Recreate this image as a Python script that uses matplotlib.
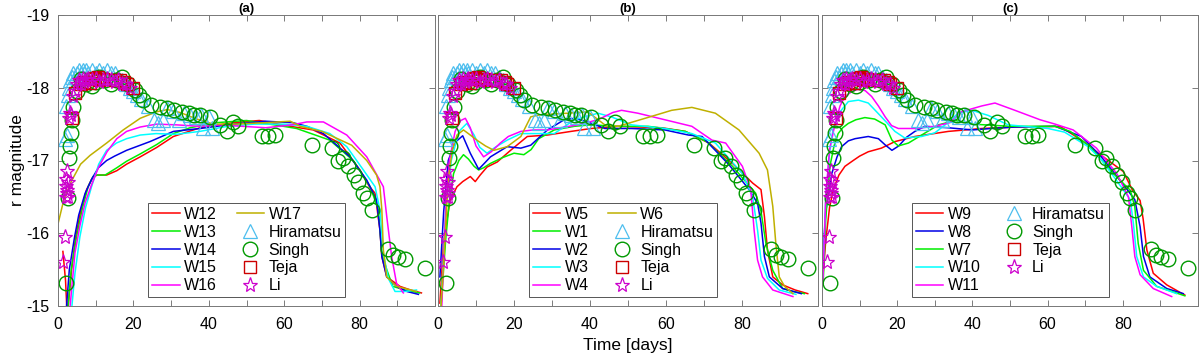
import matplotlib
matplotlib.use("Agg")
import matplotlib.pyplot as plt

plt.rcParams['font.family'] = ['Liberation Sans', 'DejaVu Sans']
plt.rcParams['axes.unicode_minus'] = False

# ── observations (same in every panel) ───────────────────
hira_t = [1.8, 2.0, 2.3, 2.6, 3.0, 3.3, 3.7, 4.0, 4.5, 5.0, 5.5, 6.0, 6.5, 7.0, 7.5, 8.0, 9.0,
          10.0, 11.0, 12.0, 13.0, 14.0, 15.0, 16.0, 17.0, 18.0, 19.0, 20.0, 21.0, 22.0, 24.0,
          25.5, 26.5, 27.8, 29.0, 30.5, 32.0, 33.5, 35.0, 36.5, 38.0, 38.5, 40.0, 40.8]
hira_m = [-17.3, -17.75, -17.35, -17.9, -18.0, -18.1, -18.15, -18.2, -18.15, -18.2, -18.25, -18.2,
          -18.25, -18.2, -18.25, -18.2, -18.25, -18.2, -18.25, -18.2, -18.25, -18.2, -18.2, -18.15,
          -18.1, -18.05, -18.0, -17.95, -17.9, -17.85, -17.75, -17.55, -17.52, -17.55, -17.72,
          -17.68, -17.55, -17.65, -17.62, -17.6, -17.62, -17.45, -17.6, -17.45]

singh_t = [2.0, 2.7, 3.0, 3.2, 3.5, 3.8, 4.1, 5.0, 6.0, 7.5, 9.0, 10.0, 11.0, 12.5, 14.0, 15.5,
           17.0, 18.5, 20.4, 21.5, 22.6, 24.8, 27.0, 29.0, 30.7, 33.0, 34.7, 36.0, 37.7, 40.3,
           43.0, 44.7, 46.5, 47.8, 54.0, 55.8, 57.5, 67.3, 72.6, 74.4, 75.6, 77.0, 78.4, 79.7,
           81.0, 81.9, 83.2, 87.6, 88.9, 90.2, 92.0, 97.3]
singh_m = [-15.32, -16.48, -17.03, -17.2, -17.38, -17.55, -17.74, -17.95, -18.12, -18.05, -18.02,
           -18.08, -18.15, -18.1, -18.05, -18.1, -18.15, -18.05, -17.97, -17.9, -17.83, -17.76,
           -17.74, -17.72, -17.7, -17.67, -17.65, -17.63, -17.62, -17.6, -17.49, -17.4, -17.53,
           -17.47, -17.34, -17.33, -17.35, -17.21, -17.17, -17.0, -17.04, -16.92, -16.8, -16.71,
           -16.55, -16.48, -16.32, -15.79, -15.7, -15.68, -15.64, -15.52]

teja_t = [3.6, 4.5, 6.0, 7.0, 8.4, 9.2, 9.8, 10.5, 11.0, 12.0, 15.0, 16.5, 17.5, 18.2, 20.0]
teja_m = [-17.58, -17.93, -18.05, -18.08, -18.07, -18.12, -18.13, -18.15, -18.11, -18.12, -18.1,
          -18.1, -18.08, -18.05, -18.0]

li_t = [1.4, 1.86, 2.0, 2.1, 2.2, 2.3, 2.4, 2.5, 2.6, 2.7, 3.0, 3.2, 3.5, 4.0, 4.5, 5.0, 5.5, 6.0,
        6.5, 7.0, 7.5, 8.0, 9.0, 10.0, 11.0, 12.0, 13.0, 14.0, 15.0, 16.0, 17.0, 18.0, 19.0]
li_m = [-15.61, -15.95, -16.5, -16.65, -16.75, -16.85, -16.6, -16.55, -16.7, -16.5, -17.58, -17.65,
        -17.62, -17.88, -17.95, -18.05, -18.1, -18.05, -18.12, -18.08, -18.1, -18.12, -18.1, -18.12,
        -18.08, -18.1, -18.12, -18.1, -18.08, -18.1, -18.05, -18.05, -18.0]

# ── panel (a) models ─────────────────────────────────────
w12_t = [1.3, 2.0, 2.4, 2.7, 3.6, 4.7, 6.0, 7.6, 9.0, 10.3, 12.9, 15.6, 18.2, 21.8, 26.2, 30.6,
         37.7, 46.5, 53.4, 61.6, 67.7, 74.8, 80.1, 82.5, 84.1, 85.4, 85.9, 87.2, 90.7, 93.5, 96.4]
w12_m = [-15.75, -15.35, -14.9, -15.0, -15.5, -15.95, -16.3, -16.6, -16.75, -16.8, -16.8, -16.86,
         -16.95, -17.05, -17.18, -17.33, -17.45, -17.52, -17.55, -17.47, -17.42, -17.24, -16.87,
         -16.65, -16.55, -16.04, -15.68, -15.4, -15.27, -15.22, -15.18]
w13_t = [2.6, 3.5, 4.9, 6.5, 8.0, 9.3, 10.3, 12.5, 15.6, 18.2, 21.8, 26.2, 30.6, 35.0, 42.0, 50.0,
         59.8, 63.3, 72.1, 78.3, 82.8, 85.0, 85.9, 87.2, 88.8, 92.0, 95.9]
w13_m = [-14.95, -15.5, -15.95, -16.35, -16.64, -16.78, -16.8, -16.8, -16.9, -16.99, -17.09, -17.22,
         -17.37, -17.45, -17.52, -17.55, -17.47, -17.44, -17.28, -17.0, -16.64, -16.32, -15.72,
         -15.5, -15.27, -15.22, -15.18]
w14_t = [2.2, 3.0, 4.4, 5.5, 7.2, 9.0, 10.7, 12.9, 15.0, 18.2, 24.4, 30.6, 37.7, 46.5, 55.0, 62.3,
         66.0, 70.4, 77.5, 81.9, 84.5, 85.4, 85.9, 87.2, 89.8, 92.5, 95.6]
w14_m = [-14.95, -15.5, -15.95, -16.25, -16.55, -16.75, -16.9, -17.0, -17.06, -17.14, -17.26, -17.4,
         -17.44, -17.5, -17.54, -17.52, -17.47, -17.37, -17.05, -16.73, -16.46, -16.04, -15.68,
         -15.4, -15.27, -15.2, -15.16]
w15_t = [3.6, 4.5, 5.8, 7.3, 8.9, 10.8, 12.9, 15.5, 18.2, 21.8, 26.0, 31.4, 37.6, 45.0, 52.0, 60.0,
         66.0, 72.1, 76.6, 81.0, 84.1, 85.4, 86.3, 87.6, 89.4, 92.0, 95.1]
w15_m = [-14.95, -15.45, -15.95, -16.35, -16.64, -16.95, -17.14, -17.24, -17.3, -17.35, -17.37,
         -17.36, -17.4, -17.47, -17.5, -17.5, -17.47, -17.37, -17.19, -16.87, -16.64, -16.32,
         -15.73, -15.38, -15.2, -15.2, -15.22]
w16_t = [3.2, 4.5, 5.8, 7.2, 9.0, 10.7, 13.0, 15.6, 18.2, 21.8, 26.2, 31.4, 37.6, 42.9, 48.9, 55.1,
         62.1, 66.0, 70.4, 76.6, 81.9, 86.3, 87.2, 88.5, 89.8, 91.6]
w16_m = [-14.99, -15.73, -16.1, -16.42, -16.68, -16.9, -17.12, -17.3, -17.4, -17.46, -17.5, -17.49,
         -17.47, -17.49, -17.47, -17.45, -17.49, -17.53, -17.53, -17.35, -17.05, -16.64, -16.23,
         -15.68, -15.31, -15.18]
w17_t = [0.1, 1.5, 3.6, 6.0, 8.5, 12.9, 17.3, 21.8, 26.2, 29.0, 32.4, 36.8, 41.2, 47.0, 55.0, 61.6,
         64.2, 70.0, 77.9, 81.9, 84.5, 85.4, 85.9, 86.3, 87.2, 89.8, 95.1]
w17_m = [-16.15, -16.45, -16.72, -16.95, -17.07, -17.24, -17.42, -17.58, -17.67, -17.7, -17.66,
         -17.57, -17.5, -17.5, -17.52, -17.54, -17.47, -17.4, -17.21, -17.0, -16.8, -16.64, -16.32,
         -15.77, -15.4, -15.27, -15.2]

# ── panel (b) models ─────────────────────────────────────
w5_t = [0.5, 1.5, 3.2, 5.0, 6.5, 8.5, 9.8, 11.1, 12.9, 15.6, 19.1, 23.5, 28.8, 35.0, 40.3, 47.4,
        58.9, 65.1, 71.3, 77.5, 82.8, 85.0, 85.9, 86.7, 88.1, 90.7, 94.0, 97.3]
w5_m = [-15.04, -15.9, -16.46, -16.64, -16.71, -16.78, -16.71, -16.8, -16.91, -16.98, -17.14,
        -17.33, -17.35, -17.4, -17.44, -17.47, -17.45, -17.4, -17.24, -16.96, -16.69, -16.6,
        -16.23, -15.77, -15.4, -15.29, -15.22, -15.17]
w1_t = [0.8, 2.0, 3.0, 4.1, 5.5, 6.7, 8.0, 9.5, 10.7, 12.0, 13.8, 17.0, 20.0, 22.6, 24.5, 26.5,
        30.6, 35.9, 40.3, 47.4, 55.3, 65.1, 71.0, 77.5, 83.6, 85.0, 86.3, 88.1, 90.7, 93.5, 96.4]
w1_m = [-15.0, -15.9, -16.45, -16.82, -17.0, -17.08, -17.02, -16.92, -16.87, -16.9, -16.96, -17.04,
        -17.1, -17.08, -17.15, -17.3, -17.42, -17.47, -17.49, -17.47, -17.47, -17.4, -17.25,
        -16.92, -16.55, -16.3, -15.86, -15.49, -15.24, -15.2, -15.17]
w2_t = [0.5, 1.5, 2.7, 4.5, 6.5, 8.5, 10.7, 12.0, 13.8, 18.2, 21.8, 24.4, 28.8, 33.2, 35.9, 39.4,
        43.9, 50.9, 59.7, 65.9, 69.5, 76.6, 81.9, 84.1, 85.0, 85.9, 87.2, 90.7, 95.6]
w2_m = [-15.4, -16.3, -17.0, -17.25, -17.34, -17.1, -16.88, -16.95, -17.05, -17.19, -17.17, -17.21,
        -17.42, -17.56, -17.58, -17.53, -17.44, -17.44, -17.42, -17.35, -17.33, -16.94, -16.6,
        -16.41, -16.14, -15.68, -15.4, -15.24, -15.17]
w3_t = [0.8, 2.0, 3.5, 5.5, 7.6, 9.5, 11.0, 12.9, 15.0, 18.2, 21.8, 24.4, 30.6, 35.9, 42.1, 45.6,
        50.9, 59.7, 66.8, 73.0, 80.1, 82.8, 84.1, 85.0, 86.7, 89.8, 94.2]
w3_m = [-15.0, -16.3, -17.0, -17.4, -17.51, -17.35, -17.18, -17.1, -17.18, -17.28, -17.37, -17.37,
        -17.37, -17.56, -17.65, -17.6, -17.49, -17.44, -17.37, -17.24, -16.82, -16.5, -16.04,
        -15.63, -15.38, -15.22, -15.16]
w4_t = [1.0, 2.0, 3.0, 4.5, 6.0, 7.2, 8.5, 10.0, 12.0, 14.0, 16.4, 18.5, 21.8, 25.0, 28.8, 36.8,
        42.1, 46.0, 48.3, 52.6, 59.7, 66.8, 72.1, 75.7, 80.1, 82.3, 83.2, 84.1, 85.4, 88.1, 93.4]
w4_m = [-15.0, -16.3, -17.0, -17.4, -17.55, -17.58, -17.45, -17.2, -17.05, -17.12, -17.24, -17.33,
        -17.4, -17.42, -17.42, -17.49, -17.56, -17.66, -17.69, -17.65, -17.56, -17.47, -17.28,
        -17.24, -16.92, -16.6, -16.04, -15.63, -15.4, -15.22, -15.13]
w6_t = [0.8, 1.5, 2.7, 3.8, 5.0, 6.7, 8.5, 10.5, 12.5, 14.7, 18.2, 21.8, 24.4, 27.0, 34.1, 39.4,
        43.9, 47.4, 54.5, 61.5, 66.8, 73.0, 79.2, 84.5, 86.7, 88.1, 88.9, 89.8, 91.2, 93.4]
w6_m = [-15.0, -15.6, -16.75, -17.15, -17.35, -17.42, -17.35, -17.27, -17.2, -17.14, -17.19,
        -17.33, -17.6, -17.63, -17.65, -17.67, -17.49, -17.47, -17.58, -17.69, -17.73, -17.65,
        -17.42, -17.1, -16.87, -16.37, -15.86, -15.4, -15.27, -15.17]

# ── panel (c) models ─────────────────────────────────────
w9_t = [0.1, 1.0, 2.0, 3.0, 4.5, 6.1, 8.3, 10.0, 12.3, 15.8, 19.4, 24.7, 33.6, 42.5, 51.3, 63.3,
        69.0, 73.5, 80.1, 82.5, 84.6, 85.4, 86.4, 88.1, 91.7, 96.5]
w9_m = [-15.31, -15.9, -16.35, -16.6, -16.8, -16.92, -17.0, -17.06, -17.12, -17.17, -17.26, -17.33,
        -17.4, -17.44, -17.46, -17.47, -17.28, -17.1, -16.85, -16.6, -16.45, -16.2, -15.77, -15.45,
        -15.29, -15.15]
w8_t = [0.1, 1.0, 2.6, 4.0, 5.2, 7.0, 8.8, 12.3, 15.0, 16.9, 18.6, 20.4, 22.5, 24.7, 27.4, 33.6,
        40.0, 45.0, 51.3, 62.0, 69.0, 74.3, 80.6, 83.2, 84.6, 85.5, 87.2, 91.7, 96.1]
w8_m = [-15.54, -16.3, -16.82, -17.05, -17.19, -17.27, -17.3, -17.33, -17.3, -17.21, -17.14, -17.2,
        -17.32, -17.4, -17.47, -17.45, -17.42, -17.44, -17.46, -17.47, -17.33, -17.05, -16.64,
        -16.46, -16.09, -15.68, -15.4, -15.24, -15.17]
w7_t = [0.3, 1.0, 2.1, 3.2, 4.3, 5.5, 7.0, 9.0, 11.4, 14.0, 16.8, 18.6, 20.3, 23.0, 26.5, 31.0,
        35.4, 40.0, 50.0, 62.0, 66.0, 71.3, 77.5, 82.0, 83.2, 84.1, 85.5, 89.0, 96.5]
w7_m = [-15.3, -16.2, -16.92, -17.2, -17.37, -17.45, -17.51, -17.56, -17.59, -17.57, -17.49, -17.28,
        -17.2, -17.24, -17.35, -17.49, -17.55, -17.5, -17.47, -17.47, -17.4, -17.19, -16.82,
        -16.59, -16.36, -15.86, -15.49, -15.27, -15.14]
w10_t = [0.2, 1.0, 2.0, 3.0, 4.5, 7.0, 9.7, 12.3, 15.8, 19.4, 22.0, 26.5, 30.0, 33.0, 36.2, 39.8,
         44.2, 49.5, 60.1, 64.5, 70.8, 74.3, 78.0, 82.0, 82.8, 83.7, 85.5, 89.0, 94.3]
w10_m = [-15.4, -16.5, -17.1, -17.45, -17.65, -17.81, -17.83, -17.79, -17.6, -17.4, -17.31, -17.33,
         -17.38, -17.5, -17.65, -17.69, -17.62, -17.49, -17.44, -17.39, -17.19, -17.01, -16.75,
         -16.46, -16.14, -15.68, -15.4, -15.27, -15.17]
w11_t = [0.2, 1.0, 2.0, 3.5, 4.8, 6.1, 8.0, 9.7, 11.5, 13.2, 15.0, 16.8, 18.5, 20.3, 24.7, 30.0,
         34.0, 37.1, 42.5, 46.0, 51.3, 58.0, 62.0, 66.8, 73.0, 78.4, 81.5, 82.4, 83.2, 84.6, 88.1, 93.0]
w11_m = [-15.3, -16.5, -17.15, -17.51, -17.75, -17.88, -17.95, -17.98, -17.96, -17.88, -17.75,
         -17.6, -17.48, -17.44, -17.44, -17.47, -17.52, -17.67, -17.75, -17.79, -17.69, -17.56,
         -17.5, -17.42, -17.17, -16.82, -16.5, -16.09, -15.68, -15.43, -15.24, -15.13]

RED, GREEN, BLUE, CYAN, MAG, OLIVE = "#FF0000", "#00EE00", "#0000E6", "#00FFFF", "#FF00FF", "#BFB000"

panels = [
    ("(a)", [(w12_t, w12_m, RED, "W12"), (w13_t, w13_m, GREEN, "W13"), (w14_t, w14_m, BLUE, "W14"),
             (w15_t, w15_m, CYAN, "W15"), (w16_t, w16_m, MAG, "W16"), (w17_t, w17_m, OLIVE, "W17")]),
    ("(b)", [(w5_t, w5_m, RED, "W5"), (w1_t, w1_m, GREEN, "W1"), (w2_t, w2_m, BLUE, "W2"),
             (w3_t, w3_m, CYAN, "W3"), (w4_t, w4_m, MAG, "W4"), (w6_t, w6_m, OLIVE, "W6")]),
    ("(c)", [(w9_t, w9_m, RED, "W9"), (w8_t, w8_m, BLUE, "W8"), (w7_t, w7_m, GREEN, "W7"),
             (w10_t, w10_m, CYAN, "W10"), (w11_t, w11_m, MAG, "W11")]),
]

# axes boxes in pixels: left, right
boxes = [(58, 435), (438, 818), (822, 1198)]
W, H = 1200, 358
top, bot = 15, 306

fig = plt.figure(figsize=(12, 3.58), dpi=100)

for i, (title, curves) in enumerate(panels):
    l, r = boxes[i]
    ax = fig.add_axes([l / W, 1 - bot / H, (r - l) / W, (bot - top) / H])
    for t, m, c, lab in curves:
        ax.plot(t, m, color=c, lw=1.1, label=lab)
    ax.plot(hira_t, hira_m, ls="none", marker="^", ms=10, mfc="none", mec="#4DBEEE", mew=0.9,
            label="Hiramatsu")
    ax.plot(singh_t, singh_m, ls="none", marker="o", ms=10.5, mfc="none", mec="#009900", mew=1.0,
            label="Singh")
    ax.plot(teja_t, teja_m, ls="none", marker="s", ms=8, mfc="none", mec="#CC0000", mew=1.0,
            label="Teja")
    ax.plot(li_t, li_m, ls="none", marker="*", ms=11, mfc="none", mec="#CC00CC", mew=0.9,
            label="Li")

    ax.set_xlim(0, 100)
    ax.set_ylim(-15, -19)
    ax.set_xticks(range(0, 101, 10))
    ax.set_xticklabels([str(v) if v % 20 == 0 and v < 100 else "" for v in range(0, 101, 10)])
    ax.set_yticks([-19, -18, -17, -16, -15])
    if i == 0:
        ax.set_yticklabels(["-19", "-18", "-17", "-16", "-15"])
        ax.set_ylabel("r magnitude", fontsize=12.5, labelpad=1)
    else:
        ax.set_yticklabels([])
    if i == 1:
        ax.set_xlabel("Time [days]", fontsize=12.5, labelpad=4)
    ax.tick_params(direction="in", top=True, right=True, labelsize=11.5, length=4,
                   color="#666666", width=0.6)
    ax.tick_params(axis="x", pad=8)
    ax.tick_params(axis="y", pad=6)
    for s in ax.spines.values():
        s.set_color("#777777")
        s.set_linewidth(0.7)
    ax.set_title(title, fontsize=9.5, fontweight="bold", pad=2)

    leg = ax.legend(ncol=2, loc="lower left", bbox_to_anchor=(0.24, 0.03), fontsize=11.5,
                    fancybox=False, edgecolor="#555555", framealpha=1, handlelength=1.7,
                    labelspacing=0.18, columnspacing=1.2, handletextpad=0.3, borderpad=0.25,
                    borderaxespad=0)
    leg.get_frame().set_linewidth(0.7)

fig.savefig("out.png", dpi=100)
